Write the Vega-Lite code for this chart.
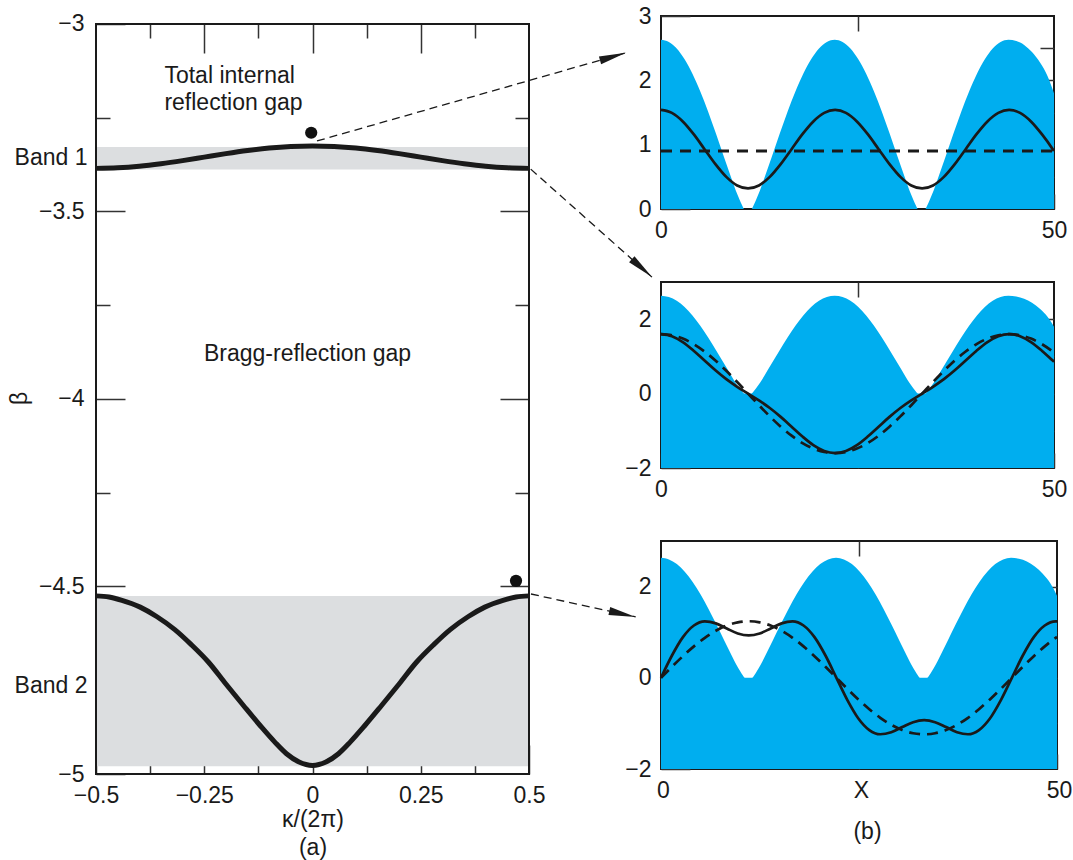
{
  "$schema": "https://vega.github.io/schema/vega-lite/v6.json",
  "padding": {"left": 8, "top": 4, "right": 0, "bottom": 2},
  "background": "white",
  "config": {
    "view": {"stroke": "#1a1a1a", "strokeWidth": 2},
    "axis": {"domain": false, "grid": false, "labelFont": "Liberation Sans", "labelFontSize": 23, "labelColor": "#1a1a1a", "titleFont": "Liberation Sans", "titleFontSize": 23, "titleFontWeight": "normal", "titleColor": "#1a1a1a", "tickColor": "#333333", "tickWidth": 1.5, "labelFlush": false, "labelOverlap": false},
    "text": {"font": "Liberation Sans", "fontSize": 23, "color": "#1a1a1a"}
  },
  "datasets": {
    "pot": [
      {"x": 0, "V": 2.63}, {"x": 1, "V": 2.595}, {"x": 2, "V": 2.493}, {"x": 3, "V": 2.326}, {"x": 4, "V": 2.101}, {"x": 5, "V": 1.826}, {"x": 6, "V": 1.511}, {"x": 7, "V": 1.168}, {"x": 8, "V": 0.813}, {"x": 9, "V": 0.462}, {"x": 9.5, "V": 0.291}, {"x": 10, "V": 0.145}, {"x": 10.3, "V": 0.063}, {"x": 10.6, "V": 0}, {"x": 11.5, "V": 0},
      {"x": 11.8, "V": 0.063}, {"x": 12.1, "V": 0.145}, {"x": 12.6, "V": 0.291}, {"x": 13.1, "V": 0.462}, {"x": 14.1, "V": 0.813}, {"x": 15.1, "V": 1.168}, {"x": 16.1, "V": 1.511}, {"x": 17.1, "V": 1.826}, {"x": 18.1, "V": 2.101}, {"x": 19.1, "V": 2.326}, {"x": 20.1, "V": 2.493}, {"x": 21.1, "V": 2.595}, {"x": 22.1, "V": 2.63},
      {"x": 23.1, "V": 2.595}, {"x": 24.1, "V": 2.493}, {"x": 25.1, "V": 2.326}, {"x": 26.1, "V": 2.101}, {"x": 27.1, "V": 1.826}, {"x": 28.1, "V": 1.511}, {"x": 29.1, "V": 1.168}, {"x": 30.1, "V": 0.813}, {"x": 31.1, "V": 0.462}, {"x": 31.6, "V": 0.291}, {"x": 32.1, "V": 0.145}, {"x": 32.4, "V": 0.063}, {"x": 32.7, "V": 0}, {"x": 33.6, "V": 0},
      {"x": 33.9, "V": 0.063}, {"x": 34.2, "V": 0.145}, {"x": 34.7, "V": 0.291}, {"x": 35.2, "V": 0.462}, {"x": 36.2, "V": 0.813}, {"x": 37.2, "V": 1.168}, {"x": 38.2, "V": 1.511}, {"x": 39.2, "V": 1.826}, {"x": 40.2, "V": 2.101}, {"x": 41.2, "V": 2.326}, {"x": 42.2, "V": 2.493}, {"x": 43.2, "V": 2.595}, {"x": 44.2, "V": 2.63},
      {"x": 45.2, "V": 2.61}, {"x": 46.2, "V": 2.55}, {"x": 47.2, "V": 2.44}, {"x": 48.2, "V": 2.28}, {"x": 49.2, "V": 2.06}, {"x": 50, "V": 1.8}
    ],
    "waves": [
      {"x": 0, "ts": 1.54, "ms": 1.6, "md": 1.6, "bs": 0, "bd": 0},
      {"x": 1.384, "ts": 1.494, "ms": 1.544, "md": 1.569, "bs": 0.489, "bd": 0.242},
      {"x": 2.769, "ts": 1.361, "ms": 1.386, "md": 1.478, "bs": 0.892, "bd": 0.475},
      {"x": 4.153, "ts": 1.163, "ms": 1.154, "md": 1.33, "bs": 1.147, "bd": 0.689},
      {"x": 5.538, "ts": 0.93, "ms": 0.889, "md": 1.131, "bs": 1.238, "bd": 0.877},
      {"x": 6.922, "ts": 0.697, "ms": 0.626, "md": 0.889, "bs": 1.194, "bd": 1.031},
      {"x": 8.306, "ts": 0.499, "ms": 0.388, "md": 0.612, "bs": 1.081, "bd": 1.146},
      {"x": 9.691, "ts": 0.366, "ms": 0.184, "md": 0.312, "bs": 0.973, "bd": 1.216},
      {"x": 11.075, "ts": 0.32, "ms": 0, "md": 0, "bs": 0.93, "bd": 1.24},
      {"x": 12.459, "ts": 0.366, "ms": -0.184, "md": -0.312, "bs": 0.973, "bd": 1.216},
      {"x": 13.844, "ts": 0.499, "ms": -0.388, "md": -0.612, "bs": 1.081, "bd": 1.146},
      {"x": 15.228, "ts": 0.697, "ms": -0.626, "md": -0.889, "bs": 1.194, "bd": 1.031},
      {"x": 16.613, "ts": 0.93, "ms": -0.889, "md": -1.131, "bs": 1.238, "bd": 0.877},
      {"x": 17.997, "ts": 1.163, "ms": -1.154, "md": -1.33, "bs": 1.147, "bd": 0.689},
      {"x": 19.381, "ts": 1.361, "ms": -1.386, "md": -1.478, "bs": 0.892, "bd": 0.475},
      {"x": 20.766, "ts": 1.494, "ms": -1.544, "md": -1.569, "bs": 0.489, "bd": 0.242},
      {"x": 22.15, "ts": 1.54, "ms": -1.6, "md": -1.6, "bs": 0, "bd": 0},
      {"x": 23.534, "ts": 1.494, "ms": -1.544, "md": -1.569, "bs": -0.489, "bd": -0.242},
      {"x": 24.919, "ts": 1.361, "ms": -1.386, "md": -1.478, "bs": -0.892, "bd": -0.475},
      {"x": 26.303, "ts": 1.163, "ms": -1.154, "md": -1.33, "bs": -1.147, "bd": -0.689},
      {"x": 27.688, "ts": 0.93, "ms": -0.889, "md": -1.131, "bs": -1.238, "bd": -0.877},
      {"x": 29.072, "ts": 0.697, "ms": -0.626, "md": -0.889, "bs": -1.194, "bd": -1.031},
      {"x": 30.456, "ts": 0.499, "ms": -0.388, "md": -0.612, "bs": -1.081, "bd": -1.146},
      {"x": 31.841, "ts": 0.366, "ms": -0.184, "md": -0.312, "bs": -0.973, "bd": -1.216},
      {"x": 33.225, "ts": 0.32, "ms": 0, "md": 0, "bs": -0.93, "bd": -1.24},
      {"x": 34.609, "ts": 0.366, "ms": 0.184, "md": 0.312, "bs": -0.973, "bd": -1.216},
      {"x": 35.994, "ts": 0.499, "ms": 0.388, "md": 0.612, "bs": -1.081, "bd": -1.146},
      {"x": 37.378, "ts": 0.697, "ms": 0.626, "md": 0.889, "bs": -1.194, "bd": -1.031},
      {"x": 38.763, "ts": 0.93, "ms": 0.889, "md": 1.131, "bs": -1.238, "bd": -0.877},
      {"x": 40.147, "ts": 1.163, "ms": 1.154, "md": 1.33, "bs": -1.147, "bd": -0.689},
      {"x": 41.531, "ts": 1.361, "ms": 1.386, "md": 1.478, "bs": -0.892, "bd": -0.475},
      {"x": 42.916, "ts": 1.494, "ms": 1.544, "md": 1.569, "bs": -0.489, "bd": -0.242},
      {"x": 44.3, "ts": 1.54, "ms": 1.6, "md": 1.6, "bs": 0, "bd": 0},
      {"x": 45.684, "ts": 1.494, "ms": 1.544, "md": 1.569, "bs": 0.489, "bd": 0.242},
      {"x": 47.069, "ts": 1.361, "ms": 1.386, "md": 1.478, "bs": 0.892, "bd": 0.475},
      {"x": 48.453, "ts": 1.163, "ms": 1.154, "md": 1.33, "bs": 1.147, "bd": 0.689},
      {"x": 49.838, "ts": 0.93, "ms": 0.889, "md": 1.131, "bs": 1.238, "bd": 0.877},
      {"x": 50, "ts": 0.9, "ms": 0.858, "md": 1.106, "bs": 1.238, "bd": 0.897}
    ],
    "bands": [
      {"band": "1", "k": -0.5, "b": -3.385}, {"band": "1", "k": -0.45, "b": -3.3835}, {"band": "1", "k": -0.4, "b": -3.3793}, {"band": "1", "k": -0.35, "b": -3.3726}, {"band": "1", "k": -0.3, "b": -3.3643}, {"band": "1", "k": -0.25, "b": -3.355}, {"band": "1", "k": -0.2, "b": -3.3457}, {"band": "1", "k": -0.15, "b": -3.3374}, {"band": "1", "k": -0.1, "b": -3.3307}, {"band": "1", "k": -0.05, "b": -3.3265}, {"band": "1", "k": 0, "b": -3.325},
      {"band": "1", "k": 0.05, "b": -3.3265}, {"band": "1", "k": 0.1, "b": -3.3307}, {"band": "1", "k": 0.15, "b": -3.3374}, {"band": "1", "k": 0.2, "b": -3.3457}, {"band": "1", "k": 0.25, "b": -3.355}, {"band": "1", "k": 0.3, "b": -3.3643}, {"band": "1", "k": 0.35, "b": -3.3726}, {"band": "1", "k": 0.4, "b": -3.3793}, {"band": "1", "k": 0.45, "b": -3.3835}, {"band": "1", "k": 0.5, "b": -3.385},
      {"band": "2", "k": -0.5, "b": -4.525}, {"band": "2", "k": -0.47, "b": -4.528}, {"band": "2", "k": -0.44, "b": -4.537}, {"band": "2", "k": -0.398, "b": -4.555}, {"band": "2", "k": -0.36, "b": -4.58}, {"band": "2", "k": -0.318, "b": -4.615}, {"band": "2", "k": -0.28, "b": -4.655}, {"band": "2", "k": -0.24, "b": -4.702}, {"band": "2", "k": -0.2, "b": -4.76}, {"band": "2", "k": -0.159, "b": -4.818}, {"band": "2", "k": -0.12, "b": -4.872}, {"band": "2", "k": -0.087, "b": -4.915}, {"band": "2", "k": -0.06, "b": -4.946}, {"band": "2", "k": -0.031, "b": -4.968}, {"band": "2", "k": 0, "b": -4.977},
      {"band": "2", "k": 0.031, "b": -4.968}, {"band": "2", "k": 0.06, "b": -4.946}, {"band": "2", "k": 0.087, "b": -4.915}, {"band": "2", "k": 0.12, "b": -4.872}, {"band": "2", "k": 0.159, "b": -4.818}, {"band": "2", "k": 0.2, "b": -4.76}, {"band": "2", "k": 0.24, "b": -4.702}, {"band": "2", "k": 0.28, "b": -4.655}, {"band": "2", "k": 0.318, "b": -4.615}, {"band": "2", "k": 0.36, "b": -4.58}, {"band": "2", "k": 0.398, "b": -4.555}, {"band": "2", "k": 0.44, "b": -4.537}, {"band": "2", "k": 0.47, "b": -4.528}, {"band": "2", "k": 0.5, "b": -4.525}
    ]
  },
  "spacing": 132,
  "bounds": "flush",
  "hconcat": [
    {
      "width": 433,
      "height": 758,
      "view": {"stroke": null},
      "resolve": {"axis": {"x": "independent", "y": "independent"}},
      "layer": [
        {
          "data": {"values": [{"k0": -0.5, "k1": 0.5, "lo": -3.328, "hi": -3.388}, {"k0": -0.5, "k1": 0.5, "lo": -4.525, "hi": -4.979}]},
          "mark": {"type": "rect", "color": "#dcdee0"},
          "encoding": {
            "x": {"field": "k0", "type": "quantitative", "scale": {"domain": [-0.5, 0.5], "nice": false, "zero": false},
                  "axis": {"orient": "top", "offset": -8, "values": [-0.375, -0.125, 0.125, 0.375], "tickSize": -14, "labels": false, "title": null}},
            "x2": {"field": "k1"},
            "y": {"field": "lo", "type": "quantitative", "scale": {"domain": [-5, -2.978667], "nice": false, "zero": false},
                  "axis": {"orient": "left", "values": [-3, -3.5, -4, -4.5, -5], "labelExpr": "replace(toString(datum.value), '-', '−')", "tickSize": -29, "labelPadding": 41, "title": "β", "titleX": -65, "titleY": 382}},
            "y2": {"field": "hi"}
          }
        },
        {
          "data": {"name": "bands"},
          "mark": {"type": "line", "color": "#1a1a1a", "strokeWidth": 5, "interpolate": "monotone"},
          "encoding": {
            "x": {"field": "k", "type": "quantitative", "scale": {"domain": [-0.5, 0.5], "nice": false, "zero": false},
                  "axis": {"orient": "bottom", "values": [-0.5, -0.25, 0, 0.25, 0.5], "labelExpr": "replace(toString(datum.value), '-', '−')", "tickSize": -29, "labelPadding": 39, "title": ["κ/(2π)", "(a)"], "titlePadding": 1, "titleLineHeight": 28}},
            "y": {"field": "b", "type": "quantitative", "scale": {"domain": [-5, -2.978667], "nice": false, "zero": false},
                  "axis": {"orient": "left", "values": [-3.25, -3.75, -4.25, -4.75], "tickSize": -14, "labels": false, "title": null}},
            "detail": {"field": "band"}
          }
        },
        {
          "data": {"values": [{"k0": -0.5, "k1": 0.5, "b0": -5, "b1": -3}]},
          "mark": {"type": "rect", "filled": false, "fill": null, "stroke": "#1a1a1a", "strokeWidth": 2},
          "encoding": {
            "x": {"field": "k0", "type": "quantitative", "scale": {"domain": [-0.5, 0.5], "nice": false, "zero": false}, "axis": null},
            "x2": {"field": "k1"},
            "y": {"field": "b0", "type": "quantitative", "scale": {"domain": [-5, -2.978667], "nice": false, "zero": false}, "axis": null},
            "y2": {"field": "b1"}
          }
        },
        {
          "data": {"values": [{"k": -0.003, "b": -3.29}, {"k": 0.47, "b": -4.485}]},
          "mark": {"type": "point", "shape": "circle", "filled": true, "opacity": 1, "color": "#111111", "size": 150},
          "encoding": {
            "x": {"field": "k", "type": "quantitative", "scale": {"domain": [-0.5, 0.5], "nice": false, "zero": false},
                  "axis": {"orient": "bottom", "values": [-0.375, -0.125, 0.125, 0.375], "tickSize": -14, "labels": false, "title": null}},
            "y": {"field": "b", "type": "quantitative", "scale": {"domain": [-5, -2.978667], "nice": false, "zero": false},
                  "axis": {"orient": "right", "values": [-3.5, -4, -4.5], "tickSize": -29, "labels": false, "title": null}}
          }
        },
        {
          "data": {"values": [{"k": -0.342, "b": -3.139, "t": "Total internal"}, {"k": -0.342, "b": -3.211, "t": "reflection gap"}, {"k": -0.2506, "b": -3.88, "t": "Bragg-reflection gap"}]},
          "mark": {"type": "text", "align": "left", "baseline": "middle", "font": "Liberation Sans", "fontSize": 23, "color": "#1a1a1a"},
          "encoding": {
            "x": {"field": "k", "type": "quantitative", "scale": {"domain": [-0.5, 0.5], "nice": false, "zero": false},
                  "axis": {"orient": "top", "offset": -8, "values": [-0.25, 0, 0.25], "tickSize": -29, "labels": false, "title": null}},
            "y": {"field": "b", "type": "quantitative", "scale": {"domain": [-5, -2.978667], "nice": false, "zero": false},
                  "axis": {"orient": "right", "values": [-3.25, -3.75, -4.25, -4.75], "tickSize": -14, "labels": false, "title": null}},
            "text": {"field": "t"}
          }
        },
        {
          "data": {"values": [
            {"k0": 0.0104, "b0": -3.312, "k1": 0.724, "b1": -3.077},
            {"k0": 0.504, "b0": -3.387, "k1": 0.784, "b1": -3.675},
            {"k0": 0.5046, "b0": -4.52, "k1": 0.7464, "b1": -4.581}
          ]},
          "mark": {"type": "rule", "color": "#1a1a1a", "strokeWidth": 1.3, "strokeDash": [8, 5]},
          "encoding": {
            "x": {"field": "k0", "type": "quantitative", "scale": {"domain": [-0.5, 0.5], "nice": false, "zero": false}, "axis": null},
            "y": {"field": "b0", "type": "quantitative", "scale": {"domain": [-5, -2.978667], "nice": false, "zero": false},
                  "axis": {"orient": "left", "values": [-3.357, -4.765], "ticks": false, "labelPadding": 9, "labelExpr": "datum.value > -4 ? 'Band 1' : 'Band 2'", "title": null}},
            "x2": {"field": "k1"},
            "y2": {"field": "b1"}
          }
        },
        {
          "data": {"values": [{"k": 0.724, "b": -3.077}]},
          "mark": {"type": "point", "shape": "M0,0L-2,-0.3L-2,0.3Z", "filled": true, "opacity": 1, "color": "#1a1a1a", "size": 729, "angle": 344.1},
          "encoding": {
            "x": {"field": "k", "type": "quantitative", "scale": {"domain": [-0.5, 0.5], "nice": false, "zero": false}, "axis": null},
            "y": {"field": "b", "type": "quantitative", "scale": {"domain": [-5, -2.978667], "nice": false, "zero": false}, "axis": null}
          }
        },
        {
          "data": {"values": [{"k": 0.784, "b": -3.675}]},
          "mark": {"type": "point", "shape": "M0,0L-2,-0.3L-2,0.3Z", "filled": true, "opacity": 1, "color": "#1a1a1a", "size": 729, "angle": 41.6},
          "encoding": {
            "x": {"field": "k", "type": "quantitative", "scale": {"domain": [-0.5, 0.5], "nice": false, "zero": false}, "axis": null},
            "y": {"field": "b", "type": "quantitative", "scale": {"domain": [-5, -2.978667], "nice": false, "zero": false}, "axis": null}
          }
        },
        {
          "data": {"values": [{"k": 0.7464, "b": -4.581}]},
          "mark": {"type": "point", "shape": "M0,0L-2,-0.3L-2,0.3Z", "filled": true, "opacity": 1, "color": "#1a1a1a", "size": 729, "angle": 12.4},
          "encoding": {
            "x": {"field": "k", "type": "quantitative", "scale": {"domain": [-0.5, 0.5], "nice": false, "zero": false}, "axis": null},
            "y": {"field": "b", "type": "quantitative", "scale": {"domain": [-5, -2.978667], "nice": false, "zero": false}, "axis": null}
          }
        }
      ]
    },
    {
      "spacing": 73,
      "bounds": "flush",
      "vconcat": [
        {
          "width": 393,
          "height": 193,
          "resolve": {"axis": {"x": "independent", "y": "independent"}},
          "layer": [
            {
              "data": {"name": "pot"},
              "mark": {"type": "area", "color": "#00aeef", "opacity": 1, "interpolate": "monotone"},
              "encoding": {
                "x": {"field": "x", "type": "quantitative", "scale": {"domain": [0, 50], "nice": false, "zero": false},
                      "axis": {"orient": "bottom", "values": [0, 25, 50], "tickSize": -15, "labelPadding": 25, "labelExpr": "datum.value == 25 ? '' : toString(datum.value)", "title": null}},
                "y": {"field": "V", "type": "quantitative", "scale": {"domain": [0, 3], "nice": false, "zero": false},
                      "axis": {"orient": "left", "values": [0, 1, 2, 3], "labelExpr": "toString(datum.value)", "tickSize": -29, "labelPadding": 39, "title": null}},
                "y2": {"datum": 0}
              }
            },
            {
              "data": {"name": "waves"},
              "mark": {"type": "line", "color": "#1a1a1a", "strokeWidth": 2.7, "interpolate": "monotone"},
              "encoding": {
                "x": {"field": "x", "type": "quantitative", "scale": {"domain": [0, 50], "nice": false, "zero": false},
                      "axis": {"orient": "top", "values": [25], "tickSize": -15, "labels": false, "title": null}},
                "y": {"field": "ts", "type": "quantitative", "scale": {"domain": [0, 3], "nice": false, "zero": false},
                      "axis": {"orient": "left", "values": [0.5, 1.5, 2.5], "tickSize": -14, "labels": false, "title": null}}
              }
            },
            {
              "data": {"values": [{"x0": 0, "x1": 50, "v": 0.9}]},
              "mark": {"type": "rule", "color": "#1a1a1a", "strokeWidth": 3, "strokeDash": [11, 8]},
              "encoding": {
                "x": {"field": "x0", "type": "quantitative", "scale": {"domain": [0, 50], "nice": false, "zero": false}, "axis": null},
                "x2": {"field": "x1"},
                "y": {"field": "v", "type": "quantitative", "scale": {"domain": [0, 3], "nice": false, "zero": false},
                      "axis": {"orient": "right", "values": [1, 2], "tickSize": -29, "labels": false, "title": null}}
              }
            },
            {
              "data": {"values": [{"x0": 0, "v": 0.9}]},
              "mark": {"type": "point", "opacity": 0},
              "encoding": {
                "x": {"field": "x0", "type": "quantitative", "scale": {"domain": [0, 50], "nice": false, "zero": false}, "axis": null},
                "y": {"field": "v", "type": "quantitative", "scale": {"domain": [0, 3], "nice": false, "zero": false},
                      "axis": {"orient": "right", "values": [0.5, 1.5, 2.5], "tickSize": -14, "labels": false, "title": null}}
              }
            }
          ]
        },
        {
          "width": 393,
          "height": 186,
          "resolve": {"axis": {"x": "independent", "y": "independent"}},
          "layer": [
            {
              "data": {"name": "pot"},
              "mark": {"type": "area", "color": "#00aeef", "opacity": 1, "interpolate": "monotone"},
              "encoding": {
                "x": {"field": "x", "type": "quantitative", "scale": {"domain": [0, 50], "nice": false, "zero": false},
                      "axis": {"orient": "bottom", "values": [0, 25, 50], "tickSize": -15, "labelPadding": 25, "labelExpr": "datum.value == 25 ? '' : toString(datum.value)", "title": null}},
                "y": {"field": "V", "type": "quantitative", "scale": {"domain": [-2, 3], "nice": false, "zero": false},
                      "axis": {"orient": "left", "values": [-2, 0, 2], "labelExpr": "replace(toString(datum.value), '-', '−')", "tickSize": -29, "labelPadding": 39, "title": null}},
                "y2": {"datum": -2}
              }
            },
            {
              "data": {"name": "waves"},
              "mark": {"type": "line", "color": "#1a1a1a", "strokeWidth": 2.7, "interpolate": "monotone"},
              "encoding": {
                "x": {"field": "x", "type": "quantitative", "scale": {"domain": [0, 50], "nice": false, "zero": false},
                      "axis": {"orient": "top", "values": [25], "tickSize": -15, "labels": false, "title": null}},
                "y": {"field": "ms", "type": "quantitative", "scale": {"domain": [-2, 3], "nice": false, "zero": false},
                      "axis": {"orient": "left", "values": [-1, 1], "tickSize": -14, "labels": false, "title": null}}
              }
            },
            {
              "data": {"name": "waves"},
              "mark": {"type": "line", "color": "#1a1a1a", "strokeWidth": 2.7, "strokeDash": [11, 7], "interpolate": "monotone"},
              "encoding": {
                "x": {"field": "x", "type": "quantitative", "scale": {"domain": [0, 50], "nice": false, "zero": false}, "axis": null},
                "y": {"field": "md", "type": "quantitative", "scale": {"domain": [-2, 3], "nice": false, "zero": false},
                      "axis": {"orient": "right", "values": [0, 2], "tickSize": -29, "labels": false, "title": null}}
              }
            },
            {
              "data": {"name": "waves"},
              "mark": {"type": "point", "opacity": 0},
              "encoding": {
                "x": {"field": "x", "type": "quantitative", "scale": {"domain": [0, 50], "nice": false, "zero": false}, "axis": null},
                "y": {"field": "md", "type": "quantitative", "scale": {"domain": [-2, 3], "nice": false, "zero": false},
                      "axis": {"orient": "right", "values": [-1, 1], "tickSize": -14, "labels": false, "title": null}}
              }
            }
          ]
        },
        {
          "width": 396,
          "height": 228,
          "resolve": {"axis": {"x": "independent", "y": "independent"}},
          "layer": [
            {
              "data": {"name": "pot"},
              "mark": {"type": "area", "color": "#00aeef", "opacity": 1, "interpolate": "monotone"},
              "encoding": {
                "x": {"field": "x", "type": "quantitative", "scale": {"domain": [0, 50], "nice": false, "zero": false},
                      "axis": {"orient": "bottom", "values": [0, 25, 50], "tickSize": -15, "labelPadding": 25, "labelOffset": 2, "labelExpr": "datum.value == 25 ? 'X' : toString(datum.value)", "title": "(b)", "titleX": 206, "titlePadding": 18}},
                "y": {"field": "V", "type": "quantitative", "scale": {"domain": [-2, 3], "nice": false, "zero": false},
                      "axis": {"orient": "left", "values": [-2, 0, 2], "labelExpr": "replace(toString(datum.value), '-', '−')", "tickSize": -29, "labelPadding": 39, "title": null}},
                "y2": {"datum": -2}
              }
            },
            {
              "data": {"name": "waves"},
              "mark": {"type": "line", "color": "#1a1a1a", "strokeWidth": 2.7, "interpolate": "monotone"},
              "encoding": {
                "x": {"field": "x", "type": "quantitative", "scale": {"domain": [0, 50], "nice": false, "zero": false},
                      "axis": {"orient": "top", "values": [25], "tickSize": -15, "labels": false, "title": null}},
                "y": {"field": "bs", "type": "quantitative", "scale": {"domain": [-2, 3], "nice": false, "zero": false},
                      "axis": {"orient": "left", "values": [-1, 1], "tickSize": -14, "labels": false, "title": null}}
              }
            },
            {
              "data": {"name": "waves"},
              "mark": {"type": "line", "color": "#1a1a1a", "strokeWidth": 2.7, "strokeDash": [11, 7], "interpolate": "monotone"},
              "encoding": {
                "x": {"field": "x", "type": "quantitative", "scale": {"domain": [0, 50], "nice": false, "zero": false}, "axis": null},
                "y": {"field": "bd", "type": "quantitative", "scale": {"domain": [-2, 3], "nice": false, "zero": false},
                      "axis": {"orient": "right", "values": [0, 2], "tickSize": -29, "labels": false, "title": null}}
              }
            },
            {
              "data": {"name": "waves"},
              "mark": {"type": "point", "opacity": 0},
              "encoding": {
                "x": {"field": "x", "type": "quantitative", "scale": {"domain": [0, 50], "nice": false, "zero": false}, "axis": null},
                "y": {"field": "bd", "type": "quantitative", "scale": {"domain": [-2, 3], "nice": false, "zero": false},
                      "axis": {"orient": "right", "values": [-1, 1], "tickSize": -14, "labels": false, "title": null}}
              }
            }
          ]
        }
      ]
    }
  ]
}
